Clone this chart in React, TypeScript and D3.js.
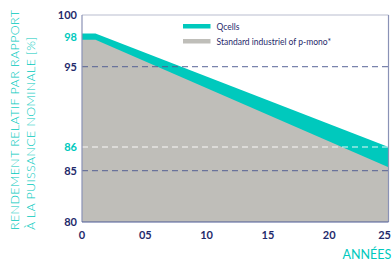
import React from 'react';
import * as d3 from 'd3';

const years = [0, 1.1, 25];
const qcells = [98.2, 98.2, 86];
const standard = [97.6, 97.6, 85.15];
const yTicks = [80, 85, 86, 95, 98, 100];
const tealTicks = [86, 98];
const xTicks = [0, 5, 10, 15, 20, 25];
const xTickLabels = ['0', '05', '10', '15', '20', '25'];
const legendItems = ['Qcells', 'Standard industriel of p-mono*'];

const W = 392;
const H = 261;
const left = 82;
const right = 388.5;
const top = 15;
const bottom = 222;

const TEAL = '#00c9bd';
const GREY = '#bfbeb9';
const NAVY = '#1f2a6b';

const App = () => {
  const x = d3.scaleLinear().domain([0, 25]).range([left, right]);
  // the source chart's value axis is not evenly spaced, so map it piecewise
  const y = d3
    .scaleLinear()
    .domain([80, 85, 86, 95, 100])
    .range([bottom, 170.7, 147, 66.7, top]);

  const area = d3
    .area<number>()
    .x((d, i) => x(years[i]))
    .y0(y(80))
    .y1(d => y(d));

  const font = 'Lato, "Open Sans", sans-serif';

  return (
    <svg width={W} height={H} style={{ position: 'absolute', left: 0, top: 0 }}>
      <rect x={0} y={0} width={W} height={H} fill="#fff" />
      <path d={area(qcells) || ''} fill={TEAL} />
      <path d={area(standard) || ''} fill={GREY} />

      {[95, 85].map(v => (
        <line
          key={v}
          x1={left}
          x2={right}
          y1={y(v)}
          y2={y(v)}
          stroke="#4d5a92"
          strokeOpacity={0.75}
          strokeWidth={1.2}
          strokeDasharray="6 4"
        />
      ))}
      <line
        x1={left}
        x2={right}
        y1={y(86)}
        y2={y(86)}
        stroke="#ffffff"
        strokeOpacity={0.9}
        strokeWidth={1.2}
        strokeDasharray="6 4"
      />

      <line x1={left} x2={right} y1={top} y2={top} stroke="#b9bdcf" strokeWidth={1} />
      <line x1={left} x2={left} y1={top} y2={bottom} stroke="#8a92b6" strokeWidth={1.2} />
      <line x1={right} x2={right} y1={top} y2={bottom} stroke="#8a92b6" strokeWidth={1.2} />
      <line x1={left} x2={right} y1={bottom} y2={bottom} stroke="#4c5b96" strokeWidth={1.2} />

      {yTicks.map(v => (
        <text
          key={v}
          x={77}
          y={y(v === 98 ? 97.85 : v)}
          dy="0.36em"
          textAnchor="end"
          fontFamily={font}
          fontWeight={700}
          fontSize={11}
          fill={tealTicks.includes(v) ? TEAL : NAVY}
        >
          {v}
        </text>
      ))}

      {xTicks.map((v, i) => {
        const last = i === xTicks.length - 1;
        return (
          <text
            key={v}
            x={last ? W - 1 : x(v) + (i === 0 ? 0 : 2)}
            y={235}
            dy="0.36em"
            textAnchor={last ? 'end' : 'middle'}
            fontFamily={font}
            fontWeight={700}
            fontSize={11}
            fill={NAVY}
          >
            {xTickLabels[i]}
          </text>
        );
      })}

      <text x={342.5} y={259} fontFamily={font} fontSize={12.5} fill={TEAL}>
        ANNÉES
      </text>

      <g transform="translate(19,230) rotate(-90)">
        <text x={0} y={0} fontFamily={font} fontWeight={300} fontSize={12.5} fill={TEAL} textLength={220}>
          RENDEMENT RELATIF PAR RAPPORT
        </text>
        <text x={0} y={16} fontFamily={font} fontWeight={300} fontSize={12.5} fill={TEAL} textLength={193}>
          À LA PUISSANCE NOMINALE [%]
        </text>
      </g>

      {legendItems.map((label, i) => (
        <g key={label} transform={`translate(183,${24 + i * 15})`}>
          <rect x={0} y={0} width={27.5} height={4.5} fill={i === 0 ? TEAL : GREY} />
          <text x={33.5} y={2.5} dy="0.36em" fontFamily={font} fontSize={8.5} fill={NAVY}>
            {label}
          </text>
        </g>
      ))}
    </svg>
  );
};

export default App;
